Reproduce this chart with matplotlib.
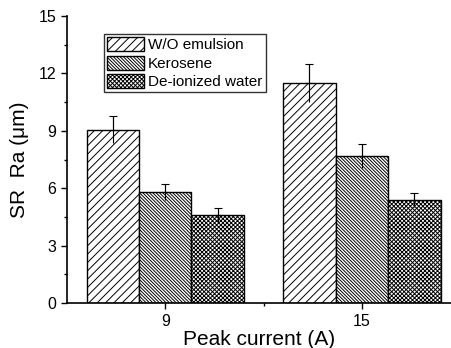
import matplotlib.pyplot as plt
import numpy as np
from matplotlib.ticker import MultipleLocator, FixedLocator

currents = [9, 15]
labels = ["W/O emulsion", "Kerosene", "De-ionized water"]
wo = [9.05, 11.5]
wo_err = [0.7, 1.0]
ker = [5.8, 7.68]
ker_err = [0.42, 0.62]
diw = [4.6, 5.38]
diw_err = [0.37, 0.35]
hatches = ["////", "\\\\\\\\\\\\\\\\\\\\", "xxxxxxxx"]

plt.rcParams['font.family'] = ['Liberation Sans', 'DejaVu Sans']
plt.rcParams['hatch.linewidth'] = 0.7
fig = plt.figure(figsize=(4.52, 3.48), dpi=100)
ax = fig.add_axes([0.148, 0.129, 0.852, 0.825])

x = np.array(currents, dtype=float)
w = 1.6
series = [(wo, wo_err), (ker, ker_err), (diw, diw_err)]
for i, (vals, errs) in enumerate(series):
    pos = x + (i - 1) * w
    ax.bar(pos, vals, width=w, color="white", edgecolor="black", hatch=hatches[i],
           linewidth=1.0, label=labels[i], zorder=2)
    ax.errorbar(pos, vals, yerr=errs, fmt="none", ecolor="black", elinewidth=0.8,
                capsize=0, zorder=3)
    ax.errorbar(pos, vals, yerr=[np.zeros(len(errs)), errs], fmt="none", ecolor="black",
                elinewidth=0.8, capsize=3, capthick=0.8, zorder=3)

ax.set_xlim(6, 17.75)
ax.set_ylim(0, 15)
ax.yaxis.set_major_locator(MultipleLocator(3))
ax.yaxis.set_minor_locator(MultipleLocator(1.5))
ax.xaxis.set_major_locator(FixedLocator(currents))
ax.xaxis.set_minor_locator(FixedLocator([12]))
ax.spines["top"].set_visible(False)
ax.spines["right"].set_visible(False)
ax.spines["left"].set_linewidth(1.2)
ax.spines["bottom"].set_linewidth(1.2)
ax.tick_params(which="major", direction="out", length=4, width=1, labelsize=11.5)
ax.tick_params(which="minor", direction="out", length=2.5, width=1)

ax.set_ylabel("SR  Ra (\u03bcm)", fontsize=15, labelpad=7)
ax.set_xlabel("Peak current (A)", fontsize=15, labelpad=1)

leg = ax.legend(loc="upper left", bbox_to_anchor=(0.096, 0.937), fontsize=11,
                frameon=True, fancybox=False, edgecolor="black", handlelength=2.4,
                handleheight=1.05, handletextpad=0.3, borderpad=0.2, labelspacing=0.2,
                borderaxespad=0)
leg.get_frame().set_linewidth(1.0)

plt.savefig("out.png", dpi=100)
